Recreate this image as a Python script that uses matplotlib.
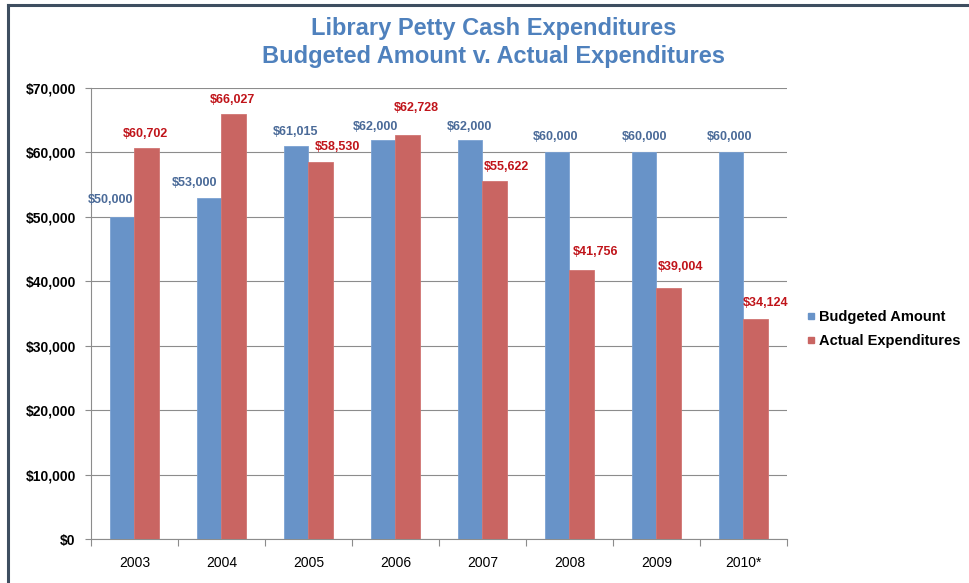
import matplotlib
matplotlib.use("Agg")
import matplotlib.pyplot as plt
from matplotlib.lines import Line2D
import numpy as np

plt.rcParams['font.family'] = ['Liberation Sans', 'DejaVu Sans']

years = ["2003", "2004", "2005", "2006", "2007", "2008", "2009", "2010*"]
budgeted = [50000, 53000, 61015, 62000, 62000, 60000, 60000, 60000]
actual = [60702, 66027, 58530, 62728, 55622, 41756, 39004, 34124]
series_names = ["Budgeted Amount", "Actual Expenditures"]
y_ticks = [0, 10000, 20000, 30000, 40000, 50000, 60000, 70000]

# per-label placement (pixels: horizontal shift, height of label centre above bar top)
budget_label_shift = [(-11.5, 17), (-15, 14.5), (-1, 14), (-8, 12.5),
                      (-1, 12.5), (-1.5, 15), (0, 15), (-1.5, 15)]
actual_label_shift = [(-1.5, 14), (-1.5, 14), (17, 14.5), (8, 27),
                      (12, 14), (14, 18), (12, 21), (10, 16)]

BLUE = "#6893C8"
RED = "#C96562"
BLUE_TXT = "#4A6A98"
RED_TXT = "#C0141A"
GRID = "#8C8C8C"

W, H = 970, 583
fig = plt.figure(figsize=(W / 100, H / 100), dpi=100)
fig.patch.set_facecolor("white")
ax = fig.add_axes([91 / W, 1 - 539 / H, (787 - 91) / W, (539 - 88) / H])

x = np.arange(len(years))
bw = 0.285
ax.bar(x - bw / 2, budgeted, bw, color=BLUE, edgecolor="#7BA2D3",
       linewidth=0.6, zorder=3, label=series_names[0])
ax.bar(x + bw / 2, actual, bw, color=RED, edgecolor="#D07572",
       linewidth=0.6, zorder=3, label=series_names[1])

for xi, v, (dx, dy) in zip(x - bw / 2, budgeted, budget_label_shift):
    ax.annotate(f"${v:,.0f}", xy=(xi, v), xytext=(dx, dy),
                textcoords="offset pixels", ha="center", va="center",
                fontsize=9, fontweight="bold", color=BLUE_TXT, zorder=5)
for xi, v, (dx, dy) in zip(x + bw / 2, actual, actual_label_shift):
    ax.annotate(f"${v:,.0f}", xy=(xi, v), xytext=(dx, dy),
                textcoords="offset pixels", ha="center", va="center",
                fontsize=9, fontweight="bold", color=RED_TXT, zorder=5)

ax.set_xlim(-0.5, len(years) - 0.5)
ax.set_ylim(0, 70000)
ax.set_yticks(y_ticks)
ax.set_yticklabels([f"${t:,.0f}" for t in y_ticks], fontsize=10,
                   fontweight="bold")
ax.set_xticks(x)
ax.set_xticklabels(years, fontsize=10)
ax.set_xticks(np.arange(-0.5, len(years)), minor=True)
ax.tick_params(axis="x", which="major", length=0, pad=12)
ax.tick_params(axis="x", which="minor", length=5, color=GRID, width=0.8,
               direction="out")
ax.tick_params(axis="y", length=4, color=GRID, width=0.8, pad=7)

ax.yaxis.grid(True, color=GRID, linewidth=0.8, zorder=0)
ax.set_axisbelow(True)
for side in ("top", "right"):
    ax.spines[side].set_visible(False)
for side in ("left", "bottom"):
    ax.spines[side].set_color(GRID)
    ax.spines[side].set_linewidth(0.8)

fig.text(494 / W, 1 - 29 / H, "Library Petty Cash Expenditures",
         ha="center", va="center", fontsize=17, fontweight="bold",
         color="#4F81BD")
fig.text(494 / W, 1 - 56 / H, "Budgeted Amount v. Actual Expenditures",
         ha="center", va="center", fontsize=17, fontweight="bold",
         color="#4F81BD")

handles = [Line2D([], [], marker="s", linestyle="none", markersize=5,
                  markerfacecolor=c, markeredgecolor=c) for c in (BLUE, RED)]
fig.legend(handles, series_names, loc="center left",
           bbox_to_anchor=(799 / W, 1 - 329 / H), frameon=False,
           prop={"size": 10.5, "weight": "bold"}, handlelength=0.6,
           handletextpad=0.3, labelspacing=0.7, borderpad=0)

# outer chart frame (top and left edges)
fig.add_artist(Line2D([8.5 / W, 1], [1 - 4.5 / H, 1 - 4.5 / H],
                      transform=fig.transFigure, color="#3E4E60", lw=2.2))
fig.add_artist(Line2D([8.5 / W, 8.5 / W], [0, 1 - 4.5 / H],
                      transform=fig.transFigure, color="#3E4E60", lw=2.2))

fig.savefig("out.png", dpi=100, facecolor="white")
